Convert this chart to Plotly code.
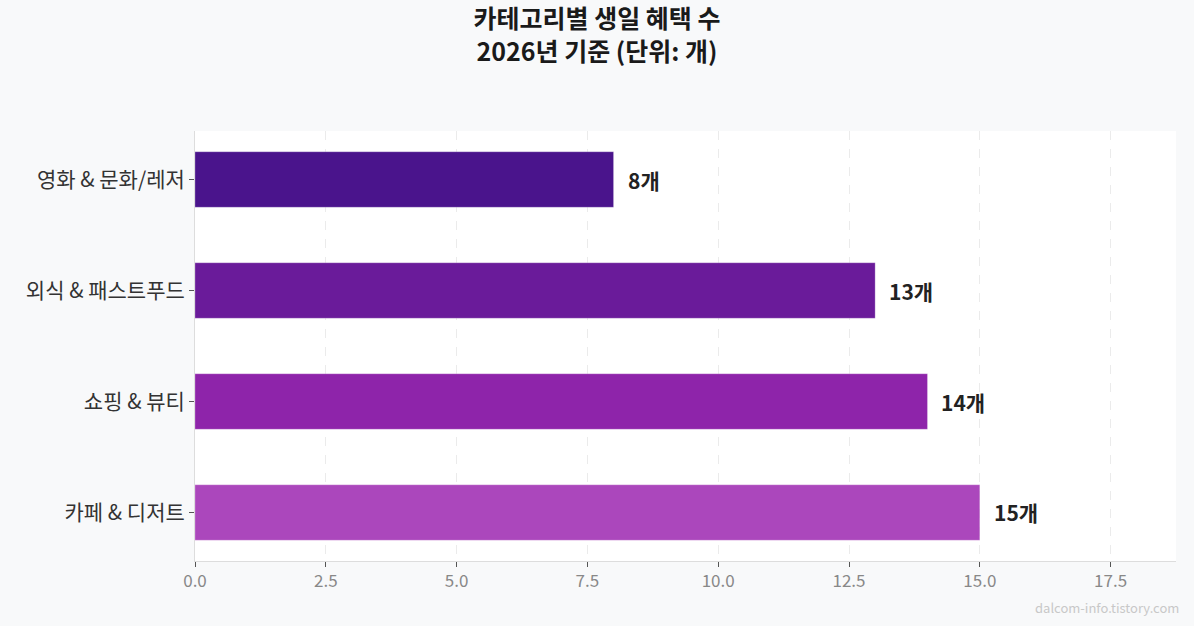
import plotly.graph_objects as go

# 데이터
categories = ["카페 & 디저트", "쇼핑 & 뷰티", "외식 & 패스트푸드", "영화 & 문화/레저"]
counts = [15, 14, 13, 8]
bar_colors = ["#AB47BC", "#8E24AA", "#6A1B9A", "#4A148C"]
value_labels = [f"{v}개" for v in counts]

FONT = "Noto Sans CJK KR"

fig = go.Figure()

fig.add_trace(go.Bar(
    y=categories,
    x=counts,
    orientation="h",
    width=0.5,
    marker=dict(color=bar_colors, line=dict(color="rgba(255,255,255,0.25)", width=1)),
    hoverinfo="skip",
))

# 막대 끝 값 라벨
for cat, v, lab in zip(categories, counts, value_labels):
    fig.add_annotation(
        x=v, y=cat, text=f"<b>{lab}</b>",
        xanchor="left", yanchor="middle", xshift=12,
        showarrow=False,
        font=dict(family=FONT, size=21, color="#222222"),
    )

# 워터마크
fig.add_annotation(
    text="dalcom-info.tistory.com",
    xref="paper", yref="paper",
    x=1.005, y=-0.109,
    xanchor="right", yanchor="middle",
    showarrow=False,
    font=dict(family=FONT, size=13, color="#c8c8c8"),
)

fig.update_layout(
    width=1194,
    height=626,
    paper_bgcolor="#f8f9fa",
    plot_bgcolor="#ffffff",
    margin=dict(l=195, r=18, t=131, b=65),
    showlegend=False,
    title=dict(
        text="<b>카테고리별 생일 혜택 수<br>2026년 기준 (단위: 개)</b>",
        x=0.5,
        xanchor="center",
        yref="container",
        y=0.955,
        yanchor="top",
        font=dict(family=FONT, size=25, color="#1a1a1a"),
    ),
    xaxis=dict(
        range=[0, 18.75],
        dtick=2.5,
        tickformat=".1f",
        showgrid=True,
        gridcolor="#ebebeb",
        griddash="dash",
        gridwidth=1,
        zeroline=False,
        showline=True,
        linecolor="#dddddd",
        linewidth=1,
        ticks="outside",
        ticklen=5,
        tickcolor="#555555",
        tickfont=dict(family=FONT, size=17, color="#888888"),
    ),
    yaxis=dict(
        range=[-0.437, 3.437],
        showgrid=False,
        zeroline=False,
        showline=True,
        linecolor="#dddddd",
        linewidth=1,
        ticks="outside",
        ticklen=5,
        tickcolor="#555555",
        tickfont=dict(family=FONT, size=21, color="#333333"),
    ),
)

fig.write_html(
    "out.html",
    config={"displayModeBar": False},
    post_script="document.body.style.margin='0';document.body.style.overflow='hidden';",
)
